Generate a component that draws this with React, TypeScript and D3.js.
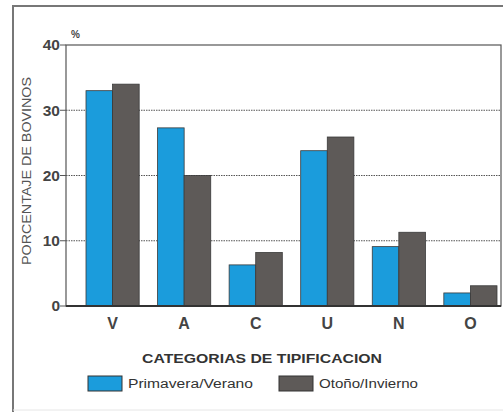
import React from "react";
import * as d3 from "d3";

const categories = ["V", "A", "C", "U", "N", "O"];
const springSummer = [33, 27.3, 6.3, 23.8, 9.1, 2.0];
const autumnWinter = [34, 20, 8.2, 25.9, 11.3, 3.1];
const seriesNames = ["Primavera/Verano", "Otoño/Invierno"];
const yTicks = [0, 10, 20, 30, 40];

const colors = ["#1b9cdc", "#5e5a58"];
const width = 503;
const height = 412;
const plot = { left: 66, right: 501, top: 45, bottom: 306 };

const yScale = d3.scaleLinear().domain([0, 40]).range([plot.bottom, plot.top]);
const xScale = d3.scaleBand().domain(categories).range([86, 497]).paddingInner(0.257).paddingOuter(0);
const subScale = d3.scaleBand().domain(["0", "1"]).range([0, xScale.bandwidth()]);

// legend layout: swatch x, text length
const legendX = [88, 279];
const legendLen = [125, 99];

export default function App() {
  const series = [springSummer, autumnWinter];
  return (
    <svg width={width} height={height} style={{ position: "absolute", left: 0, top: 0, background: "#fff" }}
      fontFamily="'Liberation Sans', Arial, sans-serif">
      {/* outer frame */}
      <path d={`M13,412 L13,6 L503,6`} fill="none" stroke="#777" strokeWidth={2} />
      <line x1={13} x2={503} y1={410} y2={410} stroke="#e6e6e6" strokeWidth={1} />

      {/* gridlines */}
      {yTicks.filter(t => t > 0 && t < 40).map(t => (
        <line key={t} x1={plot.left} x2={plot.right} y1={yScale(t)} y2={yScale(t)}
          stroke="#555" strokeWidth={1.2} strokeDasharray="1.5,1" />
      ))}

      {/* bars */}
      {categories.map((c, i) => (
        <g key={c} transform={`translate(${xScale(c)},0)`}>
          {series.map((s, j) => (
            <rect key={j} x={subScale(String(j))} width={subScale.bandwidth()}
              y={yScale(s[i])} height={yScale(0) - yScale(s[i])}
              fill={colors[j]} stroke="#3a3a3a" strokeWidth={0.8} />
          ))}
        </g>
      ))}

      {/* plot frame */}
      <rect x={plot.left} y={plot.top} width={plot.right - plot.left} height={plot.bottom - plot.top}
        fill="none" stroke="#555" strokeWidth={1.2} />
      <line x1={plot.left} x2={plot.right} y1={plot.bottom} y2={plot.bottom} stroke="#333" strokeWidth={2} />

      {/* y ticks */}
      {yTicks.map(t => (
        <g key={t}>
          <line x1={plot.left - 6} x2={plot.left} y1={yScale(t)} y2={yScale(t)} stroke="#555" strokeWidth={1} />
          <text x={60} y={yScale(t)} dy="0.35em" textAnchor="end" fontSize={15.5} fontWeight="bold" fill="#444">{t}</text>
        </g>
      ))}
      <text x={71} y={38} fontSize={10} fontWeight="bold" fill="#444">%</text>

      {/* y label */}
      <text transform={`translate(31,171) rotate(-90)`} textAnchor="middle" fontSize={12} fill="#555"
        textLength={188} lengthAdjust="spacingAndGlyphs">PORCENTAJE DE BOVINOS</text>

      {/* category labels */}
      {categories.map(c => (
        <text key={c} x={(xScale(c) as number) + xScale.bandwidth() / 2} y={329} textAnchor="middle"
          fontSize={16} fontWeight="bold" fill="#444">{c}</text>
      ))}

      {/* x title */}
      <text x={262} y={363} textAnchor="middle" fontSize={12.5} fontWeight="bold" fill="#333"
        textLength={240} lengthAdjust="spacingAndGlyphs">CATEGORIAS DE TIPIFICACION</text>

      {/* legend */}
      {seriesNames.map((n, j) => (
        <g key={n}>
          <rect x={legendX[j]} y={376} width={34} height={15} fill={colors[j]} stroke="#333" strokeWidth={1} />
          <text x={legendX[j] + 40} y={388} fontSize={12.5} fill="#333"
            textLength={legendLen[j]} lengthAdjust="spacingAndGlyphs">{n}</text>
        </g>
      ))}
    </svg>
  );
}
